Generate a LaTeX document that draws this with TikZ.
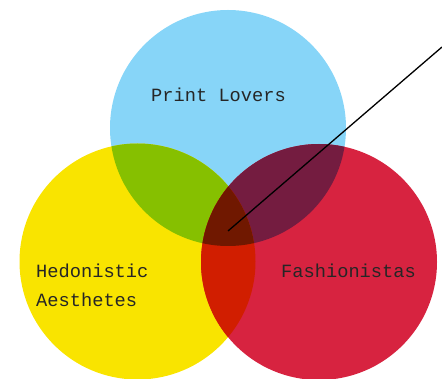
\documentclass[tikz,border=0pt]{standalone}
\usepackage{fontspec}
\setmonofont{Liberation Mono}
\definecolor{cblue}{HTML}{87D5F8}
\definecolor{cyellow}{HTML}{F9E400}
\definecolor{cred}{HTML}{D72340}
\definecolor{cgreen}{HTML}{86C000}
\definecolor{cpurple}{HTML}{741C40}
\definecolor{corange}{HTML}{D11E00}
\definecolor{cbrown}{HTML}{701800}
\tikzset{
  lbl/.style={inner sep=0pt, anchor=base west, text=black!85,
    font=\ttfamily\fontsize{18.7}{29}\selectfont},
  pointer/.style={draw=black, line width=1.3pt},
}
\begin{document}
\begin{tikzpicture}[x=1pt,y=-1pt]
\useasboundingbox (0,0) rectangle (442,379);
\coordinate (B) at (228,128);
\coordinate (Y) at (137.5,261.5);
\coordinate (R) at (319,262);
\fill[cblue] (B) circle[radius=118pt];
\fill[cyellow] (Y) circle[radius=118pt];
\fill[cred] (R) circle[radius=118pt];
\begin{scope}
  \clip (B) circle[radius=118pt];
  \fill[cgreen] (Y) circle[radius=118pt];
  \fill[cpurple] (R) circle[radius=118pt];
\end{scope}
\begin{scope}
  \clip (Y) circle[radius=118pt];
  \fill[corange] (R) circle[radius=118pt];
  \clip (B) circle[radius=118pt];
  \fill[cbrown] (R) circle[radius=118pt];
\end{scope}
\node[lbl] (print) at (151,102) {Print Lovers};
\node[lbl] (fash) at (281,278) {Fashionistas};
\node[lbl] (hed) at (36,278) {Hedonistic};
\node[lbl] (aes) at (36,307) {Aesthetes};
\coordinate (p) at (228,231);
\coordinate (q) at (442,47);
\begin{scope}
  \clip (0,0) rectangle (442,379);
  \draw[pointer] (p) -- (q);
\end{scope}
\end{tikzpicture}
\end{document}
